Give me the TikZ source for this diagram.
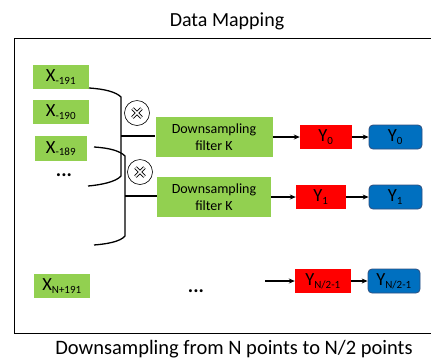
\documentclass[tikz,border=0pt]{standalone}
\usepackage{fontspec}
\setmainfont{Carlito}
\usetikzlibrary{arrows.meta}
\definecolor{boxgreen}{HTML}{92D050}
\definecolor{boxred}{HTML}{FF0000}
\definecolor{boxblue}{HTML}{0070C0}
\definecolor{blueedge}{HTML}{2F4F7F}
\tikzset{
  xbox/.style={fill=boxgreen, minimum width=56pt, minimum height=24pt, inner sep=0pt, font=\fontsize{18.5}{18.5}\selectfont},
  filterbox/.style={fill=boxgreen, minimum width=117pt, minimum height=40pt, inner sep=0pt, align=center, font=\fontsize{14}{16.5}\selectfont},
  redbox/.style={fill=boxred, minimum height=24pt, inner sep=0pt, font=\fontsize{18.5}{18.5}\selectfont},
  bluebox/.style={fill=boxblue, draw=blueedge, line width=0.8pt, rounded corners=4pt, minimum width=53pt, minimum height=24pt, inner sep=0pt, font=\fontsize{18.5}{18.5}\selectfont},
  brace/.style={line width=1.3pt},
  link/.style={line width=1.3pt},
  flow/.style={line width=1.1pt, -{Stealth[length=6pt,width=5pt]}},
  ellipsis/.style={inner sep=0pt, anchor=base, font=\fontsize{20}{20}\selectfont\bfseries},
}
\newcommand{\lbl}[2]{#1\textsubscript{\fontsize{11}{11}\selectfont #2}}
\newcommand{\mixer}[2]{%
  \node[circle, draw, line width=0.6pt, minimum size=25pt, inner sep=0pt] (#1) at (#2) {};
  \draw[line width=3.2pt] ([shift={(-4.5pt,-4.5pt)}]#1.center) -- ([shift={(4.5pt,4.5pt)}]#1.center)
        ([shift={(-4.5pt,4.5pt)}]#1.center) -- ([shift={(4.5pt,-4.5pt)}]#1.center);
  \draw[line width=1.6pt, white] ([shift={(-4.5pt,-4.5pt)}]#1.center) -- ([shift={(4.5pt,4.5pt)}]#1.center)
        ([shift={(-4.5pt,4.5pt)}]#1.center) -- ([shift={(4.5pt,-4.5pt)}]#1.center);
}
\begin{document}
\begin{tikzpicture}[x=1pt, y=-1pt]
\useasboundingbox (0,0) rectangle (431,360);
% outer frame (continues past the right edge)
\draw[line width=0.9pt] (436,38) -- (14,38) -- (14,333) -- (436,333);
\node (title) at (227,21) {\fontsize{20}{20}\selectfont Data Mapping};
\node (caption) at (234,349) {\fontsize{20.5}{20.5}\selectfont Downsampling from N points to N/2 points};

% input samples
\node[xbox] (x191) at (61,77) {\lbl{X}{-191}};
\node[xbox] (x190) at (61,112) {\lbl{X}{-190}};
\node[xbox, minimum width=52pt, minimum height=25pt] (x189) at (61,148.5) {\lbl{X}{-189}};
\node[ellipsis] (xdots) at (64,176) {...};
\node[xbox] (xN) at (62,286) {\lbl{X}{N+191}};

% brackets gathering the input windows
\coordinate (b1t) at (89,88);
\coordinate (b1b) at (88,186);
\coordinate (b1m) at (121,136);
\draw[brace] (b1t) .. controls (105,89) and (116,92) .. (121,97) -- (121,176)
  .. controls (116,182) and (100,185) .. (b1b);
\coordinate (b2t) at (94,147);
\coordinate (b2b) at (94,245);
\coordinate (b2m) at (125,196);
\draw[brace] (b2t) .. controls (110,148) and (120,151) .. (125,156) -- (125,236)
  .. controls (120,242) and (106,244) .. (b2b);

% multipliers
\mixer{m1}{137,113}
\mixer{m2}{140,172}

% downsampling filters
\node[filterbox] (f1) at (214,137) {Downsampling\\filter K};
\node[filterbox, minimum width=114pt] (f2) at (214,197) {Downsampling\\filter K};
\draw[link] (b1m) -- (f1.west |- b1m);
\draw[link] (b2m) -- (f2.west |- b2m);

% outputs
\node[redbox, minimum width=52pt] (r0) at (326,137) {\lbl{Y}{0}};
\node[bluebox] (y0) at (395.5,137) {\lbl{Y}{0}};
\node[redbox, minimum width=50pt] (r1) at (321,197) {\lbl{Y}{1}};
\node[bluebox] (y1) at (395.5,197) {\lbl{Y}{1}};
\node[redbox, minimum width=56pt] (rN) at (323,281) {\lbl{Y}{N/2-1}};
\node[bluebox, minimum width=52pt] (yN) at (394,281) {\lbl{Y}{N/2-1}};
\coordinate (inN) at (265,281);
\node[ellipsis] (odots) at (196,292) {...};

\draw[flow] (f1.east) -- (r0.west);
\draw[flow] (r0.east) -- (y0.west);
\draw[flow] (f2.east) -- (r1.west);
\draw[flow] (r1.east) -- (y1.west);
\draw[flow] (inN) -- (rN.west);
\draw[flow] (rN.east) -- (yN.west);
\end{tikzpicture}
\end{document}
